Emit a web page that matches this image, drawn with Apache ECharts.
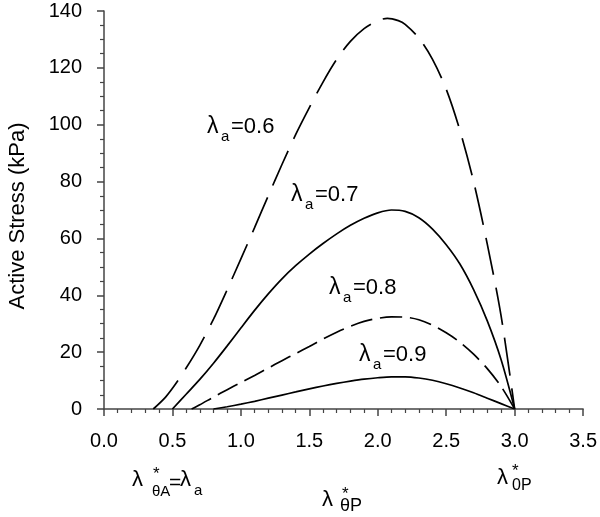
<!DOCTYPE html>
<html><head><meta charset="utf-8">
<script src="https://cdn.jsdelivr.net/npm/echarts@6/dist/echarts.min.js"></script>
<style>html,body{margin:0;padding:0;background:#fff}#c{width:600px;height:517px}</style>
</head><body><div id="c"></div>
<script>
// ---- data ----
const x06 = [0.36,0.45,0.52,0.6,0.7,0.8,0.9,1.0,1.1,1.2,1.3,1.4,1.5,1.6,1.7,1.8,1.9,2.0,2.07,2.15,2.2,2.3,2.4,2.5,2.6,2.7,2.8,2.9,3.0];
const y06 = [0,4.2,8.6,14.4,22.4,31.6,42,52.8,63.8,75,86,96.5,106,115,123,129.3,133.8,136.6,137.4,136.6,135.3,130.5,123,112.5,98,80,58,33,0];
const x07 = [0.5,0.6,0.7,0.8,0.9,1.0,1.1,1.2,1.3,1.4,1.5,1.6,1.7,1.8,1.9,2.0,2.1,2.2,2.3,2.4,2.5,2.6,2.7,2.8,2.9,3.0];
const y07 = [0,5.2,10.4,16.1,22.2,28.5,34.7,40.5,45.8,50.4,54.5,58.2,61.6,64.6,67.1,69,70,69.5,67.3,63.3,57.8,51,42,31,17.5,0];
const x08 = [0.64,0.7,0.8,0.9,1.0,1.1,1.2,1.3,1.4,1.5,1.6,1.7,1.8,1.9,2.0,2.1,2.2,2.3,2.4,2.5,2.6,2.7,2.8,2.9,3.0];
const y08 = [0,1.5,4.2,6.8,9.3,11.8,14.4,17,19.5,22,24.6,27,29.1,30.8,31.9,32.4,32.3,31.4,29.5,26.8,23.5,19.3,14.2,8,0];
const x09 = [0.8,0.9,1.0,1.1,1.2,1.3,1.4,1.5,1.6,1.7,1.8,1.9,2.0,2.1,2.2,2.3,2.4,2.5,2.6,2.7,2.8,2.9,3.0];
const y09 = [0,0.8,1.7,2.7,3.8,4.9,6,7.1,8.1,9,9.8,10.5,11,11.3,11.3,10.9,10.1,8.9,7.4,5.7,3.8,1.9,0];
const curveNames = ['0.6','0.7','0.8','0.9'];
const xRange = [0, 3.5], xStep = 0.5;
const yRange = [0, 140], yStep = 20;
const yTitle = 'Active Stress (kPa)';

// ---- chart ----
const FONT = '"Liberation Sans", Arial, sans-serif';
const zip = (xs, ys) => xs.map((v, i) => [v, ys[i]]);
function txt(x, y, text, size) {
  return {type:'text', x:x, y:y, silent:true,
    style:{text:text, fontSize:size, fontFamily:FONT, fill:'#000', align:'left', verticalAlign:'middle'}};
}
function lamLabel(lx, cy, name) {
  return [txt(lx, cy, 'λ', 23), txt(lx + 14, cy + 10, 'a', 15), txt(lx + 24, cy, '=' + name, 22)];
}
const graphics = [].concat(
  lamLabel(207, 127, curveNames[0]),
  lamLabel(291, 195, curveNames[1]),
  lamLabel(329, 288, curveNames[2]),
  lamLabel(359, 355, curveNames[3]),
  [
    txt(132, 480, 'λ', 22), txt(153, 474, '*', 17), txt(152, 492, 'θA', 15),
    txt(169, 483, '=', 21), txt(180, 480, 'λ', 22), txt(194, 491, 'a', 15),
    txt(322, 500, 'λ', 22), txt(342, 494, '*', 17), txt(340, 506, 'θP', 18),
    txt(497, 478, 'λ', 22), txt(512, 471, '*', 17), txt(512, 486, '0P', 16),
    {type:'text', x:18, y:216, rotation:Math.PI / 2, silent:true,
      style:{text:yTitle, fontSize:22, fontFamily:FONT, fill:'#000', align:'center', verticalAlign:'middle'}}
  ]
);
const line = (data, dash) => ({
  type:'line', data:data, showSymbol:false, smooth:0.3, silent:true,
  lineStyle:{color:'#000', width:1.7, type: dash || 'solid'}
});
const axisCol = '#444';
const chart = echarts.init(document.getElementById('c'), null, {renderer:'canvas'});
chart.setOption({
  animation:false,
  backgroundColor:'#fff',
  grid:{left:104, right:15, top:11, bottom:108, containLabel:false},
  xAxis:{type:'value', min:xRange[0], max:xRange[1], interval:xStep,
    axisLine:{show:true, onZero:false, lineStyle:{color:axisCol, width:1.5}},
    axisTick:{show:true, inside:false, length:7, lineStyle:{color:axisCol, width:1.5}},
    minorTick:{show:true, splitNumber:5, length:4, lineStyle:{color:axisCol, width:1.2}},
    splitLine:{show:false},
    axisLabel:{margin:22, color:'#000', fontSize:20, fontFamily:FONT, formatter:v => v.toFixed(1)}},
  yAxis:{type:'value', min:yRange[0], max:yRange[1], interval:yStep,
    axisLine:{show:true, lineStyle:{color:axisCol, width:1.5}},
    axisTick:{show:true, inside:false, length:7, lineStyle:{color:axisCol, width:1.5}},
    minorTick:{show:true, splitNumber:4, length:4, lineStyle:{color:axisCol, width:1.2}},
    splitLine:{show:false},
    axisLabel:{margin:22, color:'#000', fontSize:20, fontFamily:FONT}},
  series:[
    line(zip(x06, y06), [38, 13]),
    line(zip(x07, y07)),
    line(zip(x08, y08), [22, 8]),
    line(zip(x09, y09))
  ],
  graphic:graphics
});
</script></body></html>
